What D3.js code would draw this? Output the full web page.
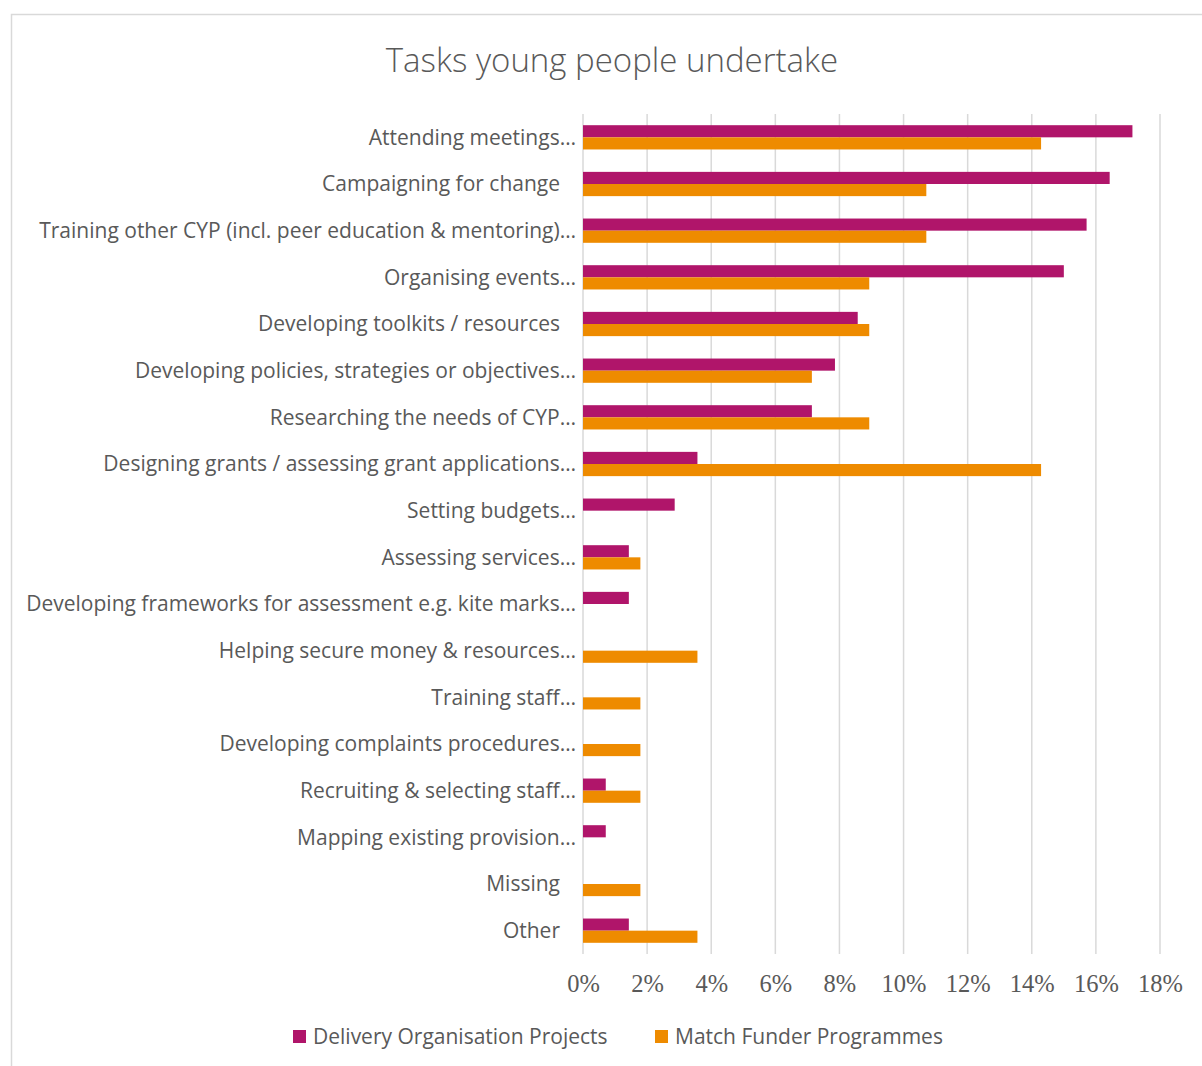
<!DOCTYPE html>
<html>
<head>
<meta charset="utf-8">
<script src="https://cdn.jsdelivr.net/npm/d3@7"></script>
<style>
  html, body { margin: 0; padding: 0; background: #ffffff; }
  svg { display: block; }
</style>
</head>
<body>
<svg id="chart" width="1202" height="1066"></svg>
<script>
// Share of tasks (%) by type of programme
const categories = [
  "Attending meetings…",
  "Campaigning for change",
  "Training other CYP (incl. peer education & mentoring)…",
  "Organising events…",
  "Developing toolkits / resources",
  "Developing policies, strategies or objectives…",
  "Researching the needs of CYP…",
  "Designing grants / assessing grant applications…",
  "Setting budgets…",
  "Assessing services…",
  "Developing frameworks for assessment e.g. kite marks…",
  "Helping secure money & resources…",
  "Training staff…",
  "Developing complaints procedures…",
  "Recruiting & selecting staff…",
  "Mapping existing provision…",
  "Missing",
  "Other"
];
const deliveryValues = [17.14, 16.43, 15.71, 15.00, 8.57, 7.86, 7.14, 3.57, 2.86, 1.43, 1.43, 0, 0, 0, 0.71, 0.71, 0, 1.43];
const matchValues    = [14.29, 10.71, 10.71, 8.93, 8.93, 7.14, 8.93, 14.29, 0, 1.79, 0, 3.57, 1.79, 1.79, 1.79, 0, 1.79, 3.57];
const seriesNames = ["Delivery Organisation Projects", "Match Funder Programmes"];
const seriesColors = ["#b0156a", "#ee8b00"];
const tickValues = [0, 2, 4, 6, 8, 10, 12, 14, 16, 18];
const chartTitle = "Tasks young people undertake";

const svg = d3.select("#chart");
const textColor = "#595959";
const gridColor = "#d9d9d9";
const sans = "'Open Sans', Lato, sans-serif";

// chart frame
svg.append("rect")
  .attr("x", 11.5).attr("y", 14.5)
  .attr("width", 1200).attr("height", 1060)
  .attr("fill", "#fff").attr("stroke", gridColor).attr("stroke-width", 1.5);

// title
svg.append("text")
  .attr("x", 612).attr("y", 72)
  .attr("text-anchor", "middle")
  .attr("font-family", sans)
  .attr("font-weight", 300)
  .attr("font-size", 33)
  .attr("fill", textColor)
  .text(chartTitle);

const x = d3.scaleLinear().domain([0, 18]).range([583, 1160]);
const y = d3.scaleBand().domain(categories).range([114, 954])
  .paddingInner(0.48).paddingOuter(0.24);
const inner = d3.scaleBand().domain([0, 1]).range([0, y.bandwidth()]);

// vertical gridlines
svg.append("g").selectAll("line")
  .data(tickValues)
  .join("line")
  .attr("x1", d => x(d)).attr("x2", d => x(d))
  .attr("y1", 114).attr("y2", 954)
  .attr("stroke", gridColor).attr("stroke-width", 1.5);

// x axis tick labels
const xAxis = d3.axisBottom(x).tickValues(tickValues)
  .tickFormat(d => d + "%").tickSize(0).tickPadding(0);
const gx = svg.append("g").attr("transform", "translate(0,975)").call(xAxis);
gx.select(".domain").remove();
gx.selectAll("text")
  .attr("font-family", "'Liberation Serif', serif")
  .attr("font-size", 24.5)
  .attr("fill", textColor);

// bars
const series = [deliveryValues, matchValues];
series.forEach((vals, si) => {
  svg.append("g").selectAll("rect")
    .data(categories.map((c, i) => ({ c, v: vals[i] })).filter(d => d.v > 0))
    .join("rect")
    .attr("x", x(0))
    .attr("y", d => y(d.c) + inner(si))
    .attr("width", d => x(d.v) - x(0))
    .attr("height", inner.bandwidth())
    .attr("fill", seriesColors[si]);
});

// category labels
svg.append("g").selectAll("text")
  .data(categories)
  .join("text")
  .attr("x", d => d.endsWith("…") ? 576 : 560)
  .attr("y", d => y(d) + y.bandwidth() / 2)
  .attr("dy", "0.35em")
  .attr("text-anchor", "end")
  .attr("font-family", sans)
  .attr("font-size", 21)
  .attr("fill", textColor)
  .text(d => d);

// legend
const legendX = [293, 655];
const lg = svg.append("g");
seriesNames.forEach((name, i) => {
  lg.append("rect")
    .attr("x", legendX[i]).attr("y", 1030)
    .attr("width", 13).attr("height", 13)
    .attr("fill", seriesColors[i]);
  lg.append("text")
    .attr("x", legendX[i] + 20).attr("y", 1044)
    .attr("font-family", sans)
    .attr("font-size", 21)
    .attr("fill", textColor)
    .text(name);
});
</script>
</body>
</html>
